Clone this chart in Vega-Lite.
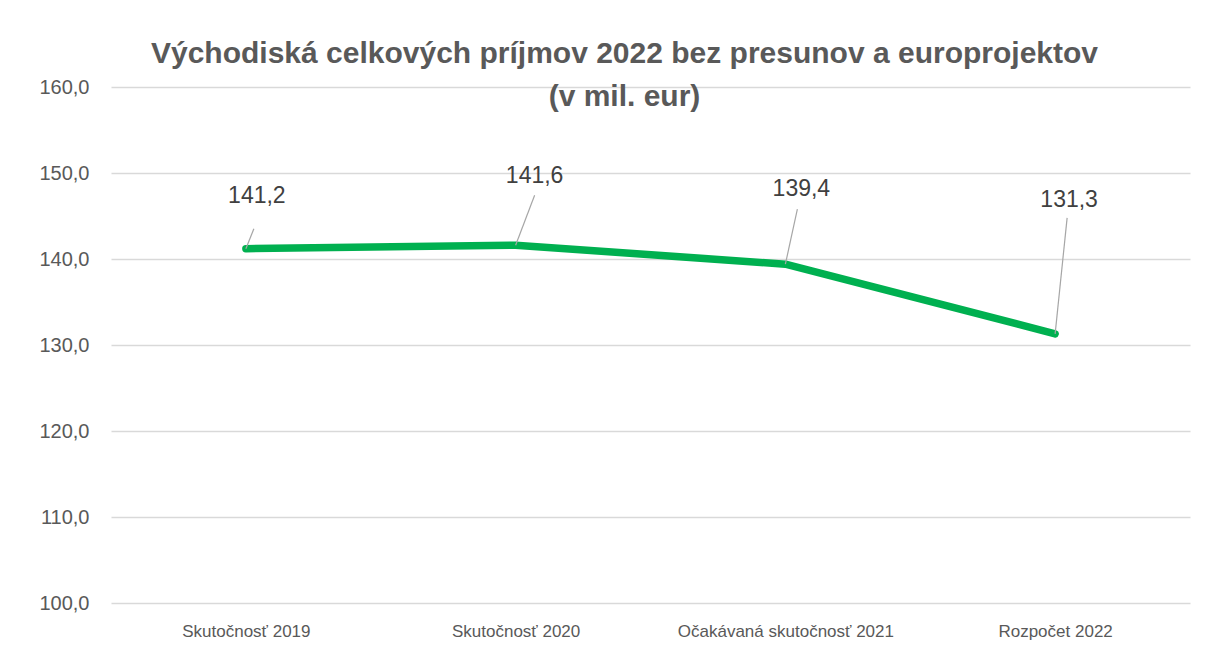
{
  "$schema": "https://vega.github.io/schema/vega-lite/v6.json",
  "width": 1079,
  "height": 516,
  "autosize": {"type": "none"},
  "padding": {"left": 111, "top": 87, "right": 18, "bottom": 49},
  "background": "white",
  "config": {
    "locale": {"number": {"decimal": ",", "thousands": " ", "grouping": [3], "currency": ["", " €"]}},
    "view": {"stroke": null},
    "font": "Liberation Sans"
  },
  "title": {
    "text": ["Východiská celkových príjmov 2022 bez presunov a europrojektov", "(v mil. eur)"],
    "font": "Liberation Sans",
    "fontSize": 30,
    "fontWeight": "bold",
    "color": "#595959",
    "lineHeight": 43,
    "anchor": "middle",
    "dx": -26,
    "offset": -35
  },
  "data": {
    "values": [
      {"cat": "Skutočnosť 2019", "v": 141.2},
      {"cat": "Skutočnosť 2020", "v": 141.6},
      {"cat": "Očakávaná skutočnosť 2021", "v": 139.4},
      {"cat": "Rozpočet 2022", "v": 131.3}
    ]
  },
  "encoding": {
    "x": {
      "field": "cat", "type": "ordinal", "sort": null,
      "scale": {"type": "point", "padding": 0.5},
      "axis": {"title": null, "labelAngle": 0, "domain": false, "ticks": false, "labelFontSize": 17, "labelColor": "#595959", "labelPadding": 20, "labelFont": "Liberation Sans", "labelLimit": 0}
    },
    "y": {
      "field": "v", "type": "quantitative",
      "scale": {"domain": [100, 160], "zero": false, "nice": false},
      "axis": {"title": null, "values": [100, 110, 120, 130, 140, 150, 160], "format": ".1f", "domain": false, "ticks": false, "labelFontSize": 20, "labelColor": "#595959", "labelPadding": 22, "gridColor": "#d9d9d9", "gridWidth": 1.5, "labelFont": "Liberation Sans"}
    }
  },
  "layer": [
    {"mark": {"type": "line", "color": "#00B050", "strokeWidth": 7.5, "strokeCap": "round", "strokeJoin": "round"}},
    {"transform": [{"filter": "datum.cat == 'Skutočnosť 2019'"}], "mark": {"type": "rule", "color": "#a6a6a6", "strokeWidth": 1.2, "x2Offset": 8, "y2Offset": -20}, "encoding": {"x2": {"field": "cat"}, "y2": {"field": "v"}}},
    {"transform": [{"filter": "datum.cat == 'Skutočnosť 2020'"}], "mark": {"type": "rule", "color": "#a6a6a6", "strokeWidth": 1.2, "x2Offset": 19, "y2Offset": -50}, "encoding": {"x2": {"field": "cat"}, "y2": {"field": "v"}}},
    {"transform": [{"filter": "datum.cat == 'Očakávaná skutočnosť 2021'"}], "mark": {"type": "rule", "color": "#a6a6a6", "strokeWidth": 1.2, "x2Offset": 12, "y2Offset": -55}, "encoding": {"x2": {"field": "cat"}, "y2": {"field": "v"}}},
    {"transform": [{"filter": "datum.cat == 'Rozpočet 2022'"}], "mark": {"type": "rule", "color": "#a6a6a6", "strokeWidth": 1.2, "x2Offset": 12, "y2Offset": -116}, "encoding": {"x2": {"field": "cat"}, "y2": {"field": "v"}}},
    {"transform": [{"filter": "datum.cat == 'Skutočnosť 2019'"}], "mark": {"type": "text", "fontSize": 23, "color": "#404040", "dx": 11, "dy": -53}, "encoding": {"text": {"field": "v", "type": "quantitative", "format": ".1f"}}},
    {"transform": [{"filter": "datum.cat == 'Skutočnosť 2020'"}], "mark": {"type": "text", "fontSize": 23, "color": "#404040", "dx": 19, "dy": -69}, "encoding": {"text": {"field": "v", "type": "quantitative", "format": ".1f"}}},
    {"transform": [{"filter": "datum.cat == 'Očakávaná skutočnosť 2021'"}], "mark": {"type": "text", "fontSize": 23, "color": "#404040", "dx": 16, "dy": -75}, "encoding": {"text": {"field": "v", "type": "quantitative", "format": ".1f"}}},
    {"transform": [{"filter": "datum.cat == 'Rozpočet 2022'"}], "mark": {"type": "text", "fontSize": 23, "color": "#404040", "dx": 14, "dy": -134}, "encoding": {"text": {"field": "v", "type": "quantitative", "format": ".1f"}}}
  ]
}
